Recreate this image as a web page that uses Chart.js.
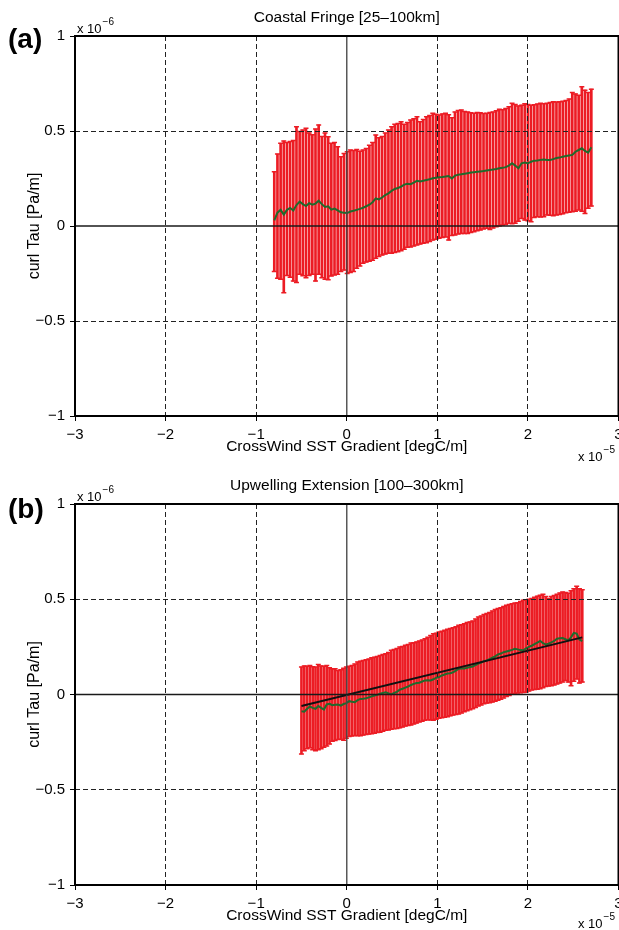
<!DOCTYPE html>
<html>
<head>
<meta charset="utf-8">
<script src="https://cdn.jsdelivr.net/npm/chart.js@4.4.0/dist/chart.umd.min.js"></script>
<style>
  body { margin: 0; background: #fff; overflow: hidden; }
  .panel { width: 619px; height: 465px; overflow: hidden; }
</style>
</head>
<body>
<div class="panel"><canvas id="chartA" width="624" height="465"></canvas></div>
<div class="panel"><canvas id="chartB" width="624" height="465"></canvas></div>
<script>
// axis ticks (x in 1e-5 degC/m, y in 1e-6 Pa/m)
var xTicks = [-3, -2, -1, 0, 1, 2, 3];
var yTicks = [-1, -0.5, 0, 0.5, 1];

// (a) Coastal Fringe [25-100km]
var xA = [-0.8,-0.765,-0.73,-0.695,-0.66,-0.625,-0.59,-0.555,-0.52,-0.485,
  -0.45,-0.415,-0.38,-0.345,-0.31,-0.275,-0.24,-0.205,-0.17,-0.135,
  -0.1,-0.065,-0.03,0.005,0.04,0.075,0.11,0.145,0.18,0.215,
  0.25,0.285,0.32,0.355,0.39,0.425,0.46,0.495,0.53,0.565,
  0.6,0.635,0.67,0.705,0.74,0.775,0.81,0.845,0.88,0.915,
  0.95,0.985,1.02,1.055,1.09,1.125,1.16,1.195,1.23,1.265,
  1.3,1.335,1.37,1.405,1.44,1.475,1.51,1.545,1.58,1.615,
  1.65,1.685,1.72,1.755,1.79,1.825,1.86,1.895,1.93,1.965,
  2.0,2.035,2.07,2.105,2.14,2.175,2.21,2.245,2.28,2.315,
  2.35,2.385,2.42,2.455,2.49,2.525,2.56,2.595,2.63,2.665,
  2.7];
var meanA = [0.03,0.07,0.085,0.06,0.085,0.095,0.082,0.11,0.128,0.115,
  0.105,0.12,0.112,0.118,0.133,0.115,0.1,0.104,0.086,0.092,
  0.082,0.072,0.07,0.068,0.076,0.08,0.085,0.09,0.096,0.104,
  0.112,0.125,0.145,0.14,0.15,0.163,0.172,0.185,0.195,0.2,
  0.207,0.218,0.222,0.22,0.228,0.238,0.234,0.238,0.242,0.246,
  0.251,0.254,0.257,0.258,0.26,0.263,0.25,0.265,0.27,0.272,
  0.275,0.278,0.281,0.283,0.285,0.287,0.289,0.292,0.295,0.297,
  0.3,0.304,0.306,0.31,0.318,0.33,0.318,0.304,0.33,0.334,
  0.33,0.338,0.344,0.345,0.348,0.35,0.347,0.347,0.352,0.358,
  0.36,0.365,0.368,0.371,0.374,0.391,0.4,0.409,0.395,0.386,
  0.415];
var upperA = [0.286,0.379,0.435,0.447,0.44,0.445,0.45,0.523,0.497,0.505,
  0.514,0.49,0.48,0.51,0.532,0.471,0.489,0.47,0.435,0.44,
  0.417,0.365,0.382,0.391,0.4,0.398,0.403,0.394,0.4,0.408,
  0.425,0.44,0.479,0.465,0.471,0.489,0.505,0.523,0.535,0.54,
  0.549,0.535,0.545,0.558,0.565,0.575,0.549,0.56,0.575,0.582,
  0.593,0.588,0.584,0.59,0.593,0.585,0.57,0.6,0.608,0.61,
  0.603,0.6,0.596,0.593,0.598,0.596,0.592,0.593,0.597,0.6,
  0.606,0.614,0.612,0.619,0.628,0.646,0.64,0.632,0.636,0.643,
  0.64,0.636,0.638,0.642,0.646,0.644,0.646,0.65,0.654,0.652,
  0.654,0.656,0.66,0.668,0.702,0.695,0.688,0.733,0.715,0.702,
  0.72];
var lowerA = [-0.24,-0.275,-0.28,-0.351,-0.26,-0.27,-0.29,-0.298,-0.254,-0.262,
  -0.272,-0.26,-0.254,-0.29,-0.254,-0.272,-0.28,-0.283,-0.263,-0.258,
  -0.254,-0.24,-0.232,-0.25,-0.245,-0.24,-0.223,-0.21,-0.196,-0.19,
  -0.185,-0.18,-0.17,-0.161,-0.153,-0.148,-0.144,-0.144,-0.14,-0.135,
  -0.13,-0.122,-0.112,-0.11,-0.105,-0.1,-0.095,-0.091,-0.088,-0.082,
  -0.074,-0.07,-0.065,-0.06,-0.058,-0.074,-0.05,-0.047,-0.042,-0.039,
  -0.04,-0.039,-0.034,-0.03,-0.025,-0.021,-0.016,-0.012,-0.018,-0.01,
  -0.004,0.0,0.005,0.008,0.014,0.012,0.014,0.025,0.04,0.031,
  0.028,0.023,0.045,0.049,0.048,0.049,0.058,0.056,0.054,0.058,
  0.061,0.064,0.07,0.072,0.075,0.078,0.084,0.078,0.066,0.093,
  0.105];

// (b) Upwelling Extension [100-300km]
var xB = [-0.5,-0.469,-0.438,-0.407,-0.376,-0.345,-0.314,-0.283,-0.252,-0.221,
  -0.19,-0.159,-0.128,-0.097,-0.066,-0.035,-0.004,0.027,0.058,0.089,
  0.12,0.151,0.182,0.213,0.244,0.275,0.306,0.337,0.368,0.399,
  0.43,0.461,0.492,0.523,0.554,0.585,0.616,0.647,0.678,0.709,
  0.74,0.771,0.802,0.833,0.864,0.895,0.926,0.957,0.988,1.019,
  1.05,1.081,1.112,1.143,1.174,1.205,1.236,1.267,1.298,1.329,
  1.36,1.391,1.422,1.453,1.484,1.515,1.546,1.577,1.608,1.639,
  1.67,1.701,1.732,1.763,1.794,1.825,1.856,1.887,1.918,1.949,
  1.98,2.011,2.042,2.073,2.104,2.135,2.166,2.197,2.228,2.259,
  2.29,2.321,2.352,2.383,2.414,2.445,2.476,2.507,2.538,2.569,
  2.6];
var meanB = [-0.088,-0.09,-0.075,-0.063,-0.07,-0.075,-0.06,-0.07,-0.079,-0.052,
  -0.049,-0.056,-0.054,-0.053,-0.058,-0.05,-0.045,-0.035,-0.038,-0.04,
  -0.03,-0.023,-0.022,-0.02,-0.015,-0.01,-0.005,-0.002,0.004,0.008,
  0.012,0.006,0.0,0.008,0.014,0.025,0.03,0.036,0.042,0.05,
  0.056,0.06,0.062,0.068,0.074,0.075,0.074,0.08,0.088,0.091,
  0.1,0.105,0.11,0.112,0.117,0.125,0.135,0.136,0.137,0.14,
  0.144,0.147,0.155,0.162,0.168,0.175,0.179,0.186,0.193,0.2,
  0.21,0.215,0.222,0.226,0.23,0.234,0.24,0.237,0.233,0.232,
  0.242,0.25,0.256,0.264,0.272,0.281,0.27,0.263,0.267,0.274,
  0.281,0.293,0.295,0.296,0.29,0.284,0.3,0.323,0.32,0.289,
  0.28];
var upperB = [0.144,0.15,0.148,0.152,0.146,0.144,0.158,0.15,0.148,0.152,
  0.14,0.135,0.135,0.126,0.13,0.138,0.144,0.148,0.152,0.16,
  0.17,0.175,0.178,0.182,0.186,0.193,0.196,0.2,0.205,0.21,
  0.214,0.22,0.232,0.236,0.242,0.249,0.252,0.258,0.262,0.27,
  0.272,0.276,0.281,0.286,0.293,0.3,0.31,0.319,0.322,0.328,
  0.332,0.337,0.342,0.346,0.35,0.356,0.363,0.366,0.372,0.378,
  0.381,0.386,0.396,0.407,0.412,0.42,0.425,0.43,0.438,0.446,
  0.452,0.456,0.462,0.468,0.472,0.477,0.48,0.482,0.488,0.495,
  0.495,0.5,0.504,0.51,0.516,0.521,0.526,0.515,0.504,0.515,
  0.52,0.526,0.533,0.538,0.535,0.532,0.545,0.555,0.568,0.555,
  0.55];
var lowerB = [-0.312,-0.295,-0.285,-0.28,-0.29,-0.295,-0.29,-0.285,-0.277,-0.27,
  -0.26,-0.246,-0.242,-0.236,-0.235,-0.24,-0.23,-0.221,-0.218,-0.215,
  -0.216,-0.216,-0.213,-0.21,-0.208,-0.206,-0.204,-0.2,-0.198,-0.193,
  -0.188,-0.186,-0.183,-0.18,-0.178,-0.175,-0.17,-0.166,-0.163,-0.16,
  -0.155,-0.15,-0.144,-0.14,-0.135,-0.132,-0.134,-0.135,-0.13,-0.125,
  -0.122,-0.12,-0.117,-0.112,-0.108,-0.105,-0.102,-0.097,-0.09,-0.085,
  -0.08,-0.075,-0.068,-0.06,-0.055,-0.048,-0.045,-0.043,-0.04,-0.035,
  -0.03,-0.025,-0.018,-0.011,-0.005,0.002,0.005,0.008,0.009,0.01,
  0.012,0.018,0.024,0.026,0.028,0.03,0.036,0.042,0.044,0.046,
  0.05,0.055,0.06,0.066,0.074,0.065,0.046,0.07,0.082,0.06,
  0.065];
// linear fit in (b)
var fitXB = [-0.5, 2.6];
var fitYB = [-0.06, 0.3];

var FONT = "'Liberation Sans', Arial, Helvetica, sans-serif";
var RED = "rgb(236,28,36)";
var GREEN = "#1f6a2c";

Chart.defaults.font.family = FONT;

function toPoints(xs, ys) {
    return xs.map(function (x, i) { return { x: x, y: ys[i] }; });
}
function toRanges(xs, lo, hi) {
    return xs.map(function (x, i) { return { x: x, y: [lo[i], hi[i]] }; });
}
function fmtTick(v) {
    return String(v).replace("-", "\u2212");
}
function gridColor(c) {
    return (c.tick && c.tick.value === 0) ? "rgba(0,0,0,0)" : "#222";
}

function drawExp(ctx, x, y, base, sup) {
    ctx.textAlign = "left";
    ctx.textBaseline = "alphabetic";
    ctx.font = "13px " + FONT;
    ctx.fillText(base, x, y);
    var w = ctx.measureText(base).width;
    ctx.font = "10px " + FONT;
    ctx.fillText(sup, x + w + 1, y - 8);
}

var panelDecor = {
    id: "panelDecor",
    afterDatasetsDraw: function (chart) {
        var ctx = chart.ctx, a = chart.chartArea;
        var x0 = chart.scales.x.getPixelForValue(0);
        var y0 = chart.scales.y.getPixelForValue(0);
        ctx.save();
        ctx.strokeStyle = "rgba(70,70,70,0.9)";
        ctx.lineWidth = 1.5;
        ctx.beginPath();
        ctx.moveTo(x0, a.top);
        ctx.lineTo(x0, a.bottom);
        ctx.stroke();
        ctx.strokeStyle = "#1a1a1a";
        ctx.beginPath();
        ctx.moveTo(a.left, y0);
        ctx.lineTo(a.right, y0);
        ctx.stroke();
        ctx.restore();
    },
    afterDraw: function (chart, args, o) {
        var ctx = chart.ctx, a = chart.chartArea;
        var cx = (a.left + a.right) / 2;
        ctx.save();
        ctx.strokeStyle = "#000";
        ctx.lineWidth = 2;
        ctx.strokeRect(a.left, a.top, a.right - a.left, a.bottom - a.top);

        ctx.fillStyle = "#000";
        ctx.textAlign = "center";
        ctx.textBaseline = "middle";
        ctx.font = "15.5px " + FONT;
        ctx.fillText(o.title, cx, a.top - 18);
        ctx.fillText("CrossWind SST Gradient [degC/m]", cx, a.bottom + 31);

        ctx.save();
        ctx.font = "16px " + FONT;
        ctx.translate(35, (a.top + a.bottom) / 2);
        ctx.rotate(-Math.PI / 2);
        ctx.fillText("curl Tau [Pa/m]", 0, 0);
        ctx.restore();

        ctx.font = "bold 28px " + FONT;
        ctx.textAlign = "left";
        ctx.fillText(o.letter, 8, a.top + o.letterDy);

        drawExp(ctx, a.left + 2, a.top - 3, "x 10", "\u22126");
        drawExp(ctx, 578, a.bottom + o.expDy, "x 10", "\u22125");
        ctx.restore();
    }
};

function makePanel(id, xs, lo, hi, mean, fitX, fitY, deco, topPad, axisH) {
    var datasets = [
        {
            type: "bar",
            data: toRanges(xs, lo, hi),
            backgroundColor: RED,
            borderWidth: 0,
            barThickness: 2,
            order: 5
        },
        {
            type: "line",
            data: toPoints(xs, hi),
            showLine: false,
            pointStyle: "line",
            pointRadius: 2.5,
            pointBorderColor: RED,
            pointBorderWidth: 1.5,
            order: 4
        },
        {
            type: "line",
            data: toPoints(xs, lo),
            showLine: false,
            pointStyle: "line",
            pointRadius: 2.5,
            pointBorderColor: RED,
            pointBorderWidth: 1.5,
            order: 3
        },
        {
            type: "line",
            data: toPoints(xs, mean),
            borderColor: GREEN,
            borderWidth: 2,
            pointRadius: 0,
            tension: 0,
            order: 1
        }
    ];
    if (fitX) {
        datasets.push({
            type: "line",
            data: toPoints(fitX, fitY),
            borderColor: "#111",
            borderWidth: 2,
            pointRadius: 0,
            order: 0
        });
    }

    return new Chart(document.getElementById(id), {
        type: "bar",
        data: { datasets: datasets },
        plugins: [panelDecor],
        options: {
            responsive: false,
            animation: false,
            devicePixelRatio: 1,
            layout: { padding: { top: topPad, right: 0, left: 0, bottom: 0 } },
            plugins: {
                legend: { display: false },
                tooltip: { enabled: false },
                panelDecor: deco
            },
            scales: {
                x: {
                    type: "linear",
                    min: -3,
                    max: 3,
                    offset: false,
                    afterBuildTicks: function (s) {
                        s.ticks = xTicks.map(function (v) { return { value: v }; });
                    },
                    afterFit: function (s) {
                        s.height = axisH;
                        s.paddingLeft = 0;
                        s.paddingRight = 0;
                    },
                    grid: {
                        offset: false,
                        color: gridColor,
                        lineWidth: 1,
                        z: 1,
                        tickLength: 5,
                        tickColor: "#000"
                    },
                    border: { display: false, dash: [5, 3] },
                    ticks: {
                        color: "#000",
                        font: { size: 15 },
                        padding: 5,
                        maxRotation: 0,
                        autoSkip: false,
                        callback: fmtTick
                    }
                },
                y: {
                    type: "linear",
                    min: -1,
                    max: 1,
                    afterBuildTicks: function (s) {
                        s.ticks = yTicks.map(function (v) { return { value: v }; });
                    },
                    afterFit: function (s) {
                        s.width = 75;
                        s.paddingTop = 0;
                        s.paddingBottom = 0;
                    },
                    grid: {
                        color: gridColor,
                        lineWidth: 1,
                        z: 1,
                        tickLength: 5,
                        tickColor: "#000"
                    },
                    border: { display: false, dash: [5, 3] },
                    ticks: {
                        color: "#000",
                        font: { size: 15 },
                        padding: 5,
                        autoSkip: false,
                        callback: fmtTick
                    }
                }
            }
        }
    });
}

document.addEventListener("DOMContentLoaded", function () {
    makePanel("chartA", xA, lowerA, upperA, meanA, null, null,
        { title: "Coastal Fringe [25\u2013100km]", letter: "(a)", letterDy: 4, expDy: 45 }, 36, 49);
    makePanel("chartB", xB, lowerB, upperB, meanB, fitXB, fitYB,
        { title: "Upwelling Extension [100\u2013300km]", letter: "(b)", letterDy: 6, expDy: 43 }, 39, 45);
});
</script>
</body>
</html>
